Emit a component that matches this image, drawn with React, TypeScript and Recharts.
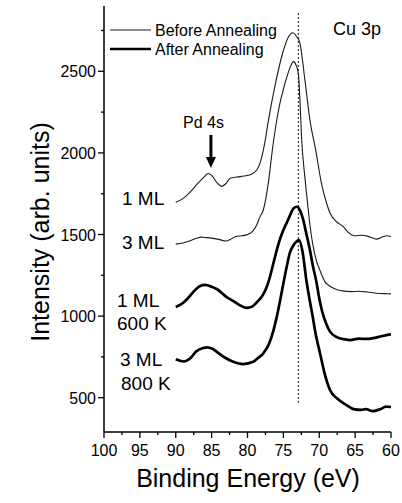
import React from 'react';
import { LineChart, Line, XAxis, YAxis, ReferenceLine, ReferenceDot } from 'recharts';

const FONT = '"Liberation Sans", Arial, Helvetica, sans-serif';

// binding energy (eV) and intensity, one pair of arrays per curve
const ev1MLBefore = [90, 89, 88, 87, 86, 85.5, 85, 84.3, 83.6, 83, 82.4, 81.5, 80.5, 79.6, 78.7, 78.2, 77.6, 77.1, 76.2, 75.1, 74.3, 73.7, 73.2, 72.7, 72, 71.3, 70.5, 69.7, 69.1, 68.5, 67.5, 66.7, 66, 65, 64, 63.3, 62.5, 62, 61.2, 60.6, 60];
const int1MLBefore = [1697, 1720, 1760, 1810, 1855, 1874, 1862, 1820, 1795, 1812, 1845, 1852, 1858, 1866, 1895, 1945, 2060, 2195, 2404, 2612, 2710, 2736, 2715, 2673, 2447, 2201, 2018, 1815, 1710, 1632, 1575, 1550, 1515, 1492, 1495, 1490, 1478, 1472, 1485, 1492, 1488];

const ev3MLBefore = [90, 89, 88, 87, 86.5, 86, 85, 84, 83, 82.4, 81.6, 80.8, 80, 79.4, 78.7, 78.3, 77.8, 77.1, 76.5, 76, 75.5, 75, 74.5, 74, 73.6, 73.2, 72.9, 72.7, 72.45, 72, 71.6, 71.3, 70.9, 70.4, 69.9, 69.2, 68.5, 67.5, 66.5, 65.7, 64.5, 63.3, 62, 61, 60];
const int3MLBefore = [1441, 1448, 1462, 1478, 1484, 1482, 1478, 1470, 1460, 1470, 1488, 1492, 1500, 1515, 1560, 1605, 1650, 1815, 2030, 2180, 2300, 2390, 2467, 2530, 2559, 2535, 2480, 2330, 2080, 1850, 1680, 1560, 1440, 1340, 1280, 1210, 1183, 1162, 1153, 1150, 1152, 1148, 1140, 1138, 1136];

const ev1ML600 = [90, 89, 88.4, 87.5, 86.6, 85.9, 85, 84.3, 83, 82, 81, 80.1, 79.3, 78.7, 78, 77.5, 77, 76.3, 75.7, 75, 74.5, 74, 73.6, 73.1, 72.7, 72.3, 71.8, 71.3, 70.9, 70.4, 70, 69.6, 69, 68.5, 67.5, 66.5, 65.7, 64.5, 63.3, 62.5, 61.5, 60.5, 60];
const int1ML600 = [1056, 1080, 1105, 1150, 1185, 1191, 1180, 1166, 1120, 1093, 1065, 1050, 1060, 1085, 1120, 1160, 1221, 1340, 1440, 1527, 1575, 1625, 1660, 1670, 1650, 1600, 1505, 1405, 1310, 1210, 1110, 1030, 950, 905, 870, 858, 853, 862, 860, 865, 875, 885, 888];

const ev3ML800 = [90, 88.9, 87.9, 87.2, 86.2, 85.6, 84.9, 84, 83.1, 82, 80.6, 79.2, 78.5, 77.8, 77, 76.4, 75.9, 75, 74.5, 74.1, 73.5, 72.8, 72.3, 71.8, 71.3, 71, 70.5, 69.9, 69.2, 68.5, 67.5, 66.2, 65.2, 64.2, 63.5, 62.5, 61.5, 60.7, 60];
const int3ML800 = [735, 722, 745, 782, 805, 809, 800, 772, 745, 720, 706, 720, 745, 772, 830, 910, 1000, 1200, 1310, 1387, 1440, 1466, 1387, 1221, 1090, 1019, 890, 774, 640, 547, 495, 455, 430, 425, 430, 418, 430, 445, 443];

const xTicks = [100, 97.5, 95, 92.5, 90, 87.5, 85, 82.5, 80, 77.5, 75, 72.5, 70, 67.5, 65, 62.5, 60];
const yTicks = [500, 750, 1000, 1250, 1500, 1750, 2000, 2250, 2500, 2750];

const toPoints = (ev: number[], val: number[]) => ev.map((e, i) => ({ ev: e, v: val[i] }));

const XTick = (props: any) => {
  const { x, y, payload } = props;
  const major = payload.value % 5 === 0;
  return (
    <g>
      <line x1={x} y1={y} x2={x} y2={y + (major ? 6 : 3)} stroke="#000" strokeWidth={1.3} />
      {major && (
        <text x={x} y={y + 24} textAnchor="middle" fontSize={16} fontFamily={FONT} fill="#000">
          {payload.value}
        </text>
      )}
    </g>
  );
};

const YTick = (props: any) => {
  const { x, y, payload } = props;
  const major = payload.value % 500 === 0;
  return (
    <g>
      <line x1={x} y1={y} x2={x - (major ? 6 : 3)} y2={y} stroke="#000" strokeWidth={1.3} />
      {major && (
        <text x={x - 8} y={y + 6} textAnchor="end" fontSize={16} fontFamily={FONT} fill="#000">
          {payload.value}
        </text>
      )}
    </g>
  );
};

const ArrowHead = (p: any) => (
  <path d={`M${p.cx - 5},${p.cy - 11} L${p.cx + 5},${p.cy - 11} L${p.cx},${p.cy} Z`} fill="#000" />
);

const note = (left: number, top: number, size: number): React.CSSProperties => ({
  position: 'absolute',
  left,
  top: top - size / 2,
  fontSize: size,
  lineHeight: `${size}px`,
  fontFamily: FONT,
  color: '#000',
  whiteSpace: 'nowrap',
});

const App: React.FC = () => {
  const axisLine = { stroke: '#000', strokeWidth: 1.5 };
  return (
    <div style={{ position: 'absolute', left: 0, top: 0, width: 402, height: 503, background: '#fff' }}>
      <LineChart width={402} height={503} margin={{ top: 6, right: 11, bottom: 31, left: 0 }}>
        <XAxis
          xAxisId="b"
          type="number"
          dataKey="ev"
          domain={[60, 100]}
          reversed
          allowDataOverflow
          ticks={xTicks}
          interval={0}
          tickSize={0}
          tickMargin={0}
          tickLine={false}
          tick={<XTick />}
          height={40}
          axisLine={axisLine}
        />
        <XAxis xAxisId="t" orientation="top" type="number" domain={[60, 100]} reversed allowDataOverflow tick={false} tickLine={false} height={0} axisLine={axisLine} />
        <YAxis
          yAxisId="l"
          type="number"
          domain={[290, 2900]}
          allowDataOverflow
          ticks={yTicks}
          interval={0}
          tickSize={0}
          tickMargin={0}
          tickLine={false}
          tick={<YTick />}
          width={104}
          axisLine={axisLine}
        />
        <YAxis yAxisId="r" orientation="right" type="number" domain={[290, 2900]} allowDataOverflow tick={false} tickLine={false} width={0} axisLine={axisLine} />

        <ReferenceLine xAxisId="b" yAxisId="l" segment={[{ x: 72.9, y: 2855 }, { x: 72.9, y: 470 }]} stroke="#000" strokeWidth={1.3} strokeDasharray="1.5 2.5" />
        <ReferenceLine xAxisId="b" yAxisId="l" segment={[{ x: 85.1, y: 2110 }, { x: 85.1, y: 1960 }]} stroke="#000" strokeWidth={3} />
        <ReferenceDot xAxisId="b" yAxisId="l" x={85.1} y={1907} shape={ArrowHead} />

        <Line xAxisId="b" yAxisId="l" data={toPoints(ev1MLBefore, int1MLBefore)} dataKey="v" type="monotone" stroke="#1a1a1a" strokeWidth={1.1} dot={false} isAnimationActive={false} />
        <Line xAxisId="b" yAxisId="l" data={toPoints(ev3MLBefore, int3MLBefore)} dataKey="v" type="monotone" stroke="#1a1a1a" strokeWidth={1.1} dot={false} isAnimationActive={false} />
        <Line xAxisId="b" yAxisId="l" data={toPoints(ev1ML600, int1ML600)} dataKey="v" type="monotone" stroke="#000" strokeWidth={2.7} dot={false} isAnimationActive={false} />
        <Line xAxisId="b" yAxisId="l" data={toPoints(ev3ML800, int3ML800)} dataKey="v" type="monotone" stroke="#000" strokeWidth={2.7} dot={false} isAnimationActive={false} />
      </LineChart>

      {/* legend */}
      <svg style={{ position: 'absolute', left: 0, top: 0 }} width={402} height={60}>
        <line x1={110} y1={30} x2={151} y2={30} stroke="#1a1a1a" strokeWidth={1.1} />
        <line x1={110} y1={49} x2={151} y2={49} stroke="#000" strokeWidth={2.7} />
      </svg>
      <div style={note(155, 31, 16)}>Before Annealing</div>
      <div style={note(155, 50, 16)}>After Annealing</div>
      <div style={note(333, 29, 18)}>Cu 3p</div>

      {/* curve annotations */}
      <div style={note(183, 123, 16)}>Pd 4s</div>
      <div style={note(122, 198, 19)}>1 ML</div>
      <div style={note(122, 242, 19)}>3 ML</div>
      <div style={note(117, 300, 19)}>1 ML</div>
      <div style={note(117, 323, 19)}>600 K</div>
      <div style={note(120, 359, 19)}>3 ML</div>
      <div style={note(121, 383, 19)}>800 K</div>

      {/* axis titles */}
      <div style={{ ...note(0, 478, 25), left: 0, width: 496, textAlign: 'center' }}>Binding Energy (eV)</div>
      <div
        style={{
          position: 'absolute',
          left: 40,
          top: 232,
          transform: 'translate(-50%, -50%) rotate(-90deg)',
          fontSize: 25,
          lineHeight: '25px',
          fontFamily: FONT,
          whiteSpace: 'nowrap',
          color: '#000',
        }}
      >
        Intensity (arb. units)
      </div>
    </div>
  );
};

export default App;
